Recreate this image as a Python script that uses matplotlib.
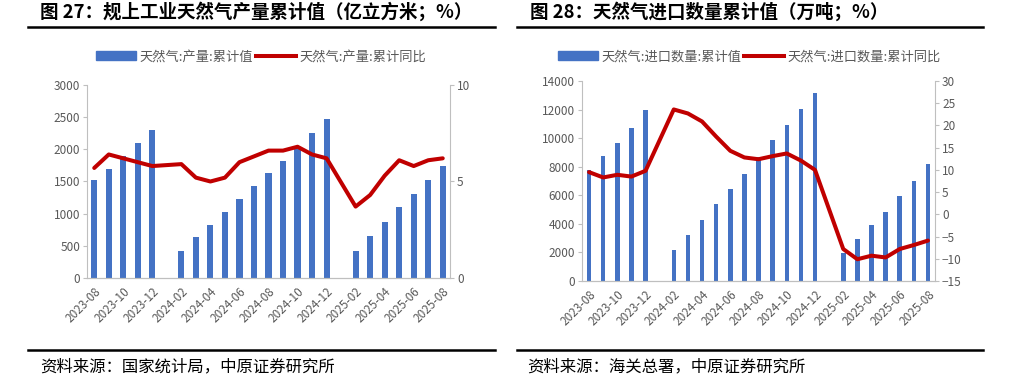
import numpy as np
import matplotlib.pyplot as plt
from matplotlib.lines import Line2D
from matplotlib.patches import Patch

plt.rcParams['font.family'] = ['Noto Sans CJK SC', 'DejaVu Sans']

months = [
    "2023-08", "2023-09", "2023-10", "2023-11", "2023-12",
    "2024-01", "2024-02", "2024-03", "2024-04", "2024-05", "2024-06", "2024-07",
    "2024-08", "2024-09", "2024-10", "2024-11", "2024-12",
    "2025-01", "2025-02", "2025-03", "2025-04", "2025-05", "2025-06", "2025-07",
    "2025-08",
]

nan = np.nan

# 图27 规上工业天然气产量累计值（亿立方米）和累计同比（%）
output_value = [1525, 1700, 1900, 2095, 2300, nan, 415, 635, 830, 1025, 1230, 1435,
                1635, 1825, 2000, 2250, 2465, nan, 425, 655, 875, 1100, 1310, 1525, 1745]
output_yoy = [5.7, 6.4, 6.2, 6.0, 5.8, nan, 5.9, 5.2, 5.0, 5.2, 6.0, 6.3,
              6.6, 6.6, 6.8, 6.4, 6.2, nan, 3.7, 4.3, 5.3, 6.1, 5.8, 6.1, 6.2]

# 图28 天然气进口数量累计值（万吨）和累计同比（%）
import_value = [7770, 8750, 9640, 10690, 11970, nan, 2170, 3220, 4270, 5370, 6460, 7510,
                8660, 9900, 10920, 12020, 13180, nan, 1980, 2920, 3900, 4850, 5950, 6980, 8170]
import_yoy = [9.5, 8.3, 8.9, 8.5, 9.8, nan, 23.6, 22.7, 20.9, 17.5, 14.3, 12.8,
              12.4, 13.1, 13.7, 12.1, 10.0, nan, -7.8, -10.1, -9.3, -9.7, -7.8, -6.9, -5.9]

BLUE = "#4472C4"
RED = "#C00000"
GRAY_TEXT = "#595959"
GRAY_AXIS = "#BFBFBF"


def draw_panel(fig, rect, bars, line, bar_label, line_label, left_ticks, right_ticks,
               bar_width, legend_x):
    ax = fig.add_axes(rect)
    x = np.arange(len(months))
    ax.bar(x, bars, width=bar_width, color=BLUE, zorder=2)
    ax.set_xlim(-0.5, len(months) - 0.5)
    ax.set_ylim(left_ticks[0], left_ticks[-1])
    ax.set_yticks(left_ticks)

    ax2 = ax.twinx()
    line = np.array(line, dtype=float)
    ok = ~np.isnan(line)
    ax2.plot(x[ok], line[ok], color=RED, linewidth=2.9, solid_joinstyle="round",
             solid_capstyle="round")
    ax2.set_ylim(right_ticks[0], right_ticks[-1])
    ax2.set_yticks(right_ticks)

    for a in (ax, ax2):
        a.spines["top"].set_visible(False)
        for side in ("left", "right", "bottom"):
            a.spines[side].set_color(GRAY_AXIS)
        a.tick_params(axis="y", colors=GRAY_AXIS, labelcolor=GRAY_TEXT,
                      labelsize=8.5, length=3, pad=2)
    ax.spines["right"].set_visible(False)
    ax2.spines["left"].set_visible(False)

    ax.set_xticks(x[::2])
    ax.set_xticklabels(months[::2], rotation=45, ha="right", rotation_mode="anchor",
                       color=GRAY_TEXT, fontsize=8.5)
    ax.tick_params(axis="x", length=0, pad=5)

    handles = [Patch(color=BLUE), Line2D([0], [0], color=RED, linewidth=2.9)]
    ax.legend(handles, [bar_label, line_label], loc="center",
              bbox_to_anchor=(legend_x, 0.849), bbox_transform=fig.transFigure,
              ncol=2, frameon=False, fontsize=9.5, handlelength=3.0,
              handletextpad=0.3, columnspacing=0.2, labelcolor=GRAY_TEXT)
    return ax


fig = plt.figure(figsize=(10.09, 3.77), dpi=100)

draw_panel(fig, [0.0862, 0.2626, 0.3598, 0.512], output_value, output_yoy,
           "天然气:产量:累计值", "天然气:产量:累计同比",
           np.arange(0, 3001, 500), [0, 5, 10], 0.42, 0.259)
draw_panel(fig, [0.5768, 0.2546, 0.3499, 0.5305], import_value, import_yoy,
           "天然气:进口数量:累计值", "天然气:进口数量:累计同比",
           np.arange(0, 14001, 2000), np.arange(-15, 31, 5), 0.32, 0.743)

fig.text(0.0396, 0.968, "图 27：规上工业天然气产量累计值（亿立方米；%）",
         fontsize=13.3, fontweight="bold", va="center", ha="left")
fig.text(0.525, 0.968, "图 28：天然气进口数量累计值（万吨；%）",
         fontsize=13.3, fontweight="bold", va="center", ha="left")

for x0, x1 in [(0.0278, 0.4906), (0.5124, 0.9742)]:
    fig.add_artist(Line2D([x0, x1], [0.9284, 0.9284], color="black", linewidth=1.8))
    fig.add_artist(Line2D([x0, x1], [0.0716, 0.0716], color="black", linewidth=1.8))

fig.text(0.0396, 0.027, "资料来源：国家统计局，中原证券研究所", fontsize=11.8,
         va="center", ha="left")
fig.text(0.522, 0.027, "资料来源：海关总署，中原证券研究所", fontsize=11.8,
         va="center", ha="left")

fig.savefig("out.png", dpi=100)
